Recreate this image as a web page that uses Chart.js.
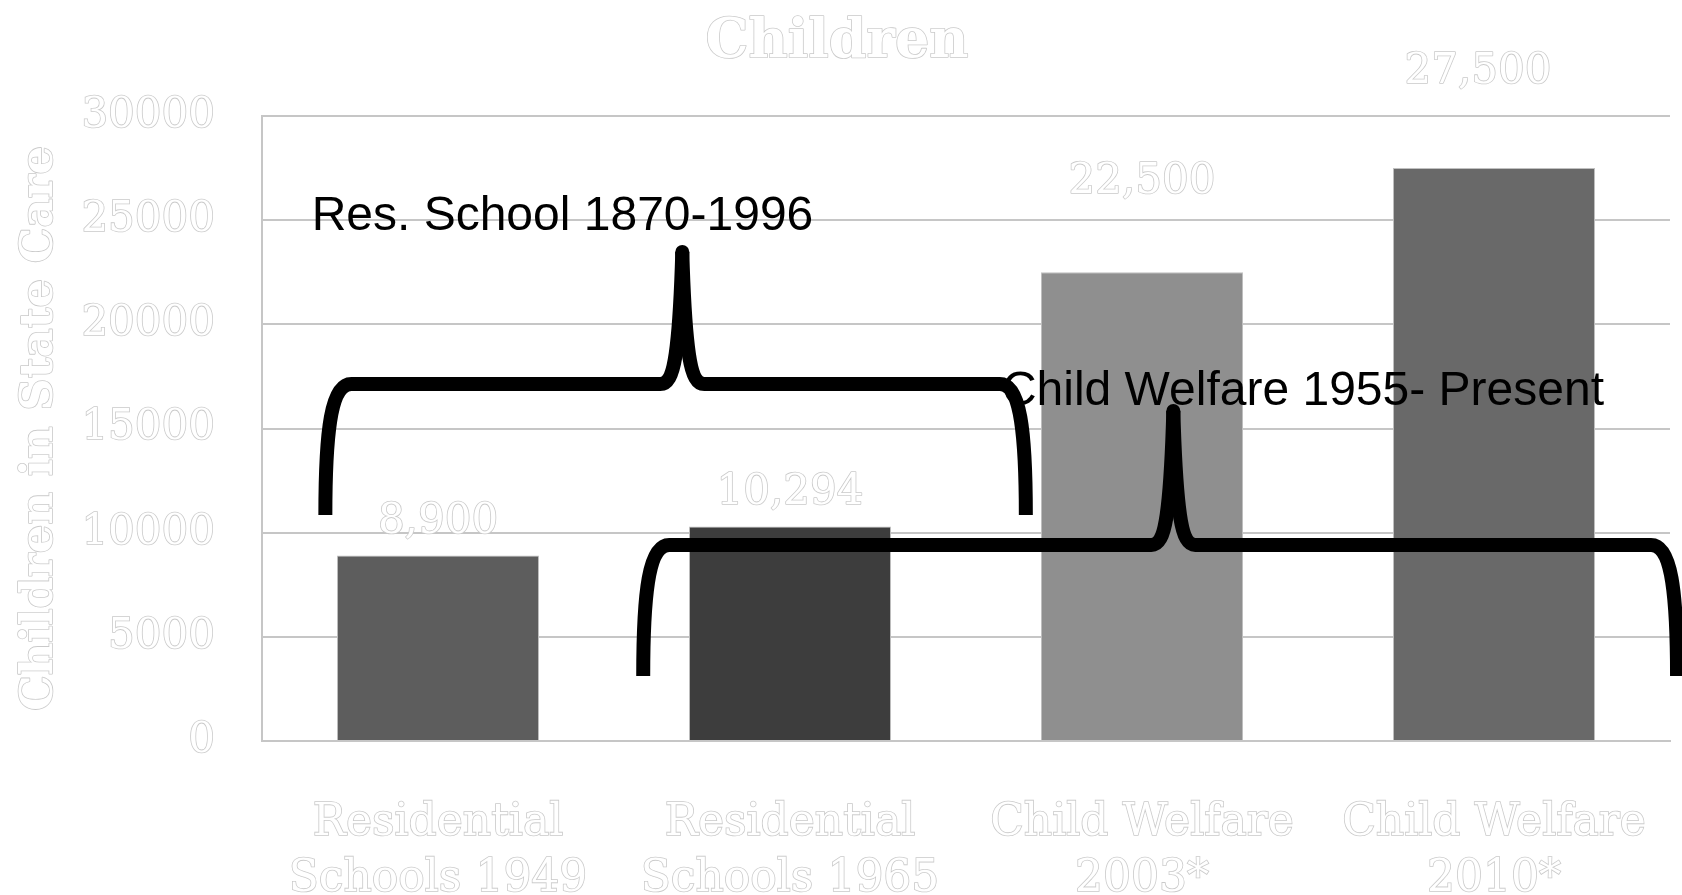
<!DOCTYPE html>
<html>
<head>
<meta charset="utf-8">
<script src="https://cdn.jsdelivr.net/npm/chart.js@4"></script>
<style>
  html, body { margin: 0; padding: 0; background: #ffffff; }
  #wrap { width: 1682px; height: 895px; }
</style>
</head>
<body>
<div id="wrap"><canvas id="c" width="1682" height="895"></canvas></div>
<script>
// ---- data ----
const categories = [
  ['Residential', 'Schools 1949'],
  ['Residential', 'Schools 1965'],
  ['Child Welfare', '2003*'],
  ['Child Welfare', '2010*']
];
const childrenInCare = [8900, 10294, 22500, 27500];
const valueLabels = ['8,900', '10,294', '22,500', '27,500'];
const barColors = ['#5d5d5d', '#3d3d3d', '#8f8f8f', '#696969'];
const yTickLabels = ['0', '5000', '10000', '15000', '20000', '25000', '30000'];
const chartTitle = 'Children';
const yAxisTitle = 'Children in State Care';

// braces: span in category units, heights in data units
const braceLabels = ['Res. School 1870-1996', 'Child Welfare 1955- Present'];
const braceFrom = [-0.32, 0.583];
const braceTo = [1.67, 3.52];
const bracePeak = [0.694, 2.089];
const braceBar = [17136, 9408];
const braceTip = [23472, 15840];
const braceFoot = [10848, 3120];
const braceTextX = [-0.359, 1.602];
const braceTextY = [25150, 16750];

// label placement relative to bar top (style)
const labelLift = [33, 33, 90, 96];
const labelShiftX = [0, 0, 0, -16];

const OUTLINE = '#cacaca';
const SERIF = '"DejaVu Serif", serif';
const SANS = '"Liberation Sans", Arial, sans-serif';

function outlineText(ctx, text, x, y, font, align) {
  ctx.save();
  ctx.font = font;
  ctx.textAlign = align || 'center';
  ctx.textBaseline = 'middle';
  ctx.lineWidth = 1.6;
  ctx.strokeStyle = OUTLINE;
  ctx.lineJoin = 'round';
  ctx.strokeText(text, x, y);
  ctx.fillStyle = '#ffffff';
  ctx.fillText(text, x, y);
  ctx.restore();
}

const decorPlugin = {
  id: 'decor',
  afterDatasetsDraw(chart) {
    const ctx = chart.ctx;
    const xs = chart.scales.x, ys = chart.scales.y;
    const area = chart.chartArea;
    // chart title
    outlineText(ctx, chartTitle, 837, 43, 'bold 54px ' + SERIF);
    // y axis title
    ctx.save();
    ctx.translate(40, (area.top + area.bottom) / 2);
    ctx.rotate(-Math.PI / 2);
    outlineText(ctx, yAxisTitle, 0, 0, 'bold 45px ' + SERIF);
    ctx.restore();
    // value labels
    const meta = chart.getDatasetMeta(0);
    meta.data.forEach((bar, i) => {
      outlineText(ctx, valueLabels[i], bar.x + labelShiftX[i], bar.y - labelLift[i], '42px ' + SERIF);
    });
    // brace texts
    const catPx = v => {
      const p0 = xs.getPixelForValue(0), p1 = xs.getPixelForValue(1);
      return p0 + v * (p1 - p0);
    };
    ctx.save();
    ctx.font = '48px ' + SANS;
    ctx.fillStyle = '#000000';
    ctx.textAlign = 'left';
    ctx.textBaseline = 'middle';
    braceLabels.forEach((t, i) => {
      ctx.fillText(t, catPx(braceTextX[i]), ys.getPixelForValue(braceTextY[i]));
    });
    ctx.restore();
    // braces
    ctx.save();
    ctx.strokeStyle = '#000000';
    ctx.lineWidth = 14;
    ctx.lineJoin = 'round';
    braceLabels.forEach((t, i) => {
      const L = catPx(braceFrom[i]), R = catPx(braceTo[i]), M = catPx(bracePeak[i]);
      const H = ys.getPixelForValue(braceBar[i]);
      const T = ys.getPixelForValue(braceTip[i]);
      const B = ys.getPixelForValue(braceFoot[i]);
      ctx.lineCap = 'butt';
      ctx.beginPath();
      ctx.moveTo(L, B);
      ctx.bezierCurveTo(L, H + 45, L + 6, H, L + 26, H);
      ctx.lineTo(M - 22, H);
      ctx.bezierCurveTo(M - 8, H, M - 3, H - 30, M, T);
      ctx.stroke();
      ctx.beginPath();
      ctx.moveTo(M, T);
      ctx.bezierCurveTo(M + 3, H - 30, M + 8, H, M + 22, H);
      ctx.lineTo(R - 26, H);
      ctx.bezierCurveTo(R - 6, H, R, H + 45, R, B);
      ctx.stroke();
      ctx.beginPath();
      ctx.arc(M, T, 7, 0, Math.PI * 2);
      ctx.fillStyle = '#000';
      ctx.fill();
    });
    ctx.restore();
  }
};

new Chart(document.getElementById('c'), {
  type: 'bar',
  data: {
    labels: categories,
    datasets: [{
      data: childrenInCare,
      backgroundColor: barColors,
      borderColor: '#c0c0c0',
      borderWidth: 1,
      categoryPercentage: 1.0,
      barPercentage: 0.574
    }]
  },
  options: {
    responsive: false,
    animation: false,
    layout: { padding: { top: 116, right: 12, bottom: 0, left: 0 } },
    plugins: {
      legend: { display: false },
      title: { display: false },
      tooltip: { enabled: false }
    },
    scales: {
      x: {
        grid: { display: false, drawTicks: false },
        border: { display: true, color: '#c6c6c6', width: 2 },
        ticks: {
          font: { family: SERIF, size: 44, lineHeight: 1.27 },
          color: '#ffffff',
          textStrokeColor: OUTLINE,
          textStrokeWidth: 1.6,
          padding: 55,
          maxRotation: 0,
          autoSkip: false
        },
        afterFit(scale) {
          scale.height = 154;
          scale.paddingLeft = 0;
          scale.paddingRight = 0;
        }
      },
      y: {
        min: 0,
        max: 30000,
        grid: { color: '#c6c6c6', lineWidth: 2, drawTicks: false },
        border: { display: true, color: '#c6c6c6', width: 2 },
        ticks: {
          stepSize: 5000,
          font: { family: SERIF, size: 42 },
          color: '#ffffff',
          textStrokeColor: OUTLINE,
          textStrokeWidth: 1.6,
          padding: 47,
          callback: (v, i) => yTickLabels[i]
        },
        afterFit(scale) { scale.width = 262; }
      }
    }
  },
  plugins: [decorPlugin]
});
</script>
</body>
</html>
